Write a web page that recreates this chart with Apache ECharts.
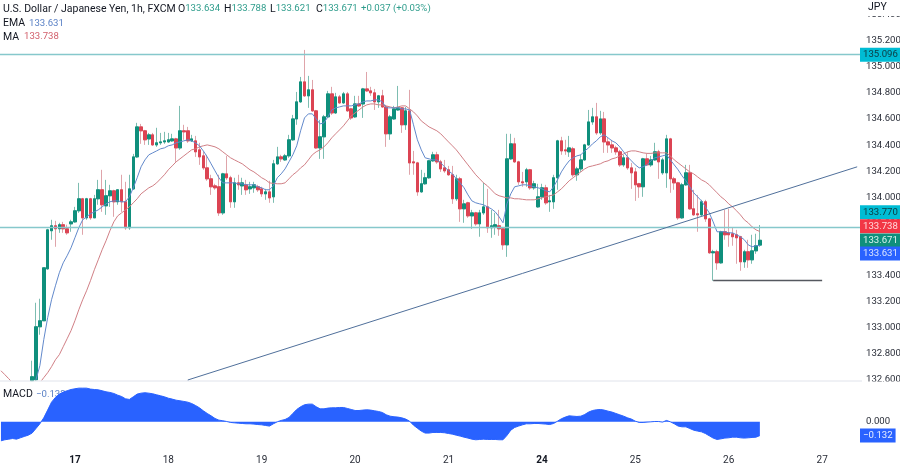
<!DOCTYPE html>
<html><head><meta charset="utf-8">
<style>html,body{margin:0;padding:0;background:#fff}#c{width:900px;height:464px}</style>
<script src="https://cdn.jsdelivr.net/npm/echarts@6/dist/echarts.min.js"></script>
</head><body><div id="c"></div>
<script>
const slotCount=222;
const sessionDays=[17,18,19,20,21,24,25,26,27];
// open, close, low, high per hour; first 8 hours sit below the visible range
const ohlc=[null,null,null,null,null,null,null,null,
[132.595,132.625,132.595,132.748],[132.602,133.008,132.595,133.192],[133.008,133.054,132.947,133.223],[133.054,133.460,133.054,133.460],
[133.452,133.751,133.445,133.759],[133.744,133.782,133.675,133.828],[133.782,133.759,133.621,133.820],[133.759,133.790,133.728,133.805],
[133.790,133.759,133.728,133.812],[133.759,133.728,133.713,133.790],[133.797,133.812,133.736,133.828],[133.812,133.897,133.805,133.927],
[133.897,133.989,133.881,134.111],[133.989,133.843,133.713,133.996],[133.843,133.989,133.828,133.996],[133.989,133.843,133.828,133.996],
[133.843,133.989,133.843,134.019],[133.989,134.058,133.943,134.134],[134.058,133.943,133.889,134.211],[133.935,134.012,133.866,134.134],
[134.012,134.050,133.927,134.096],[134.050,133.966,133.851,134.058],[133.966,134.058,133.943,134.058],[134.058,133.966,133.889,134.173],
[133.966,133.767,133.751,134.119],[133.767,134.065,133.751,134.173],[134.065,134.310,134.058,134.333],[134.310,134.540,134.303,134.571],
[134.540,134.510,134.410,134.563],[134.510,134.441,134.402,134.517],[134.448,134.479,134.402,134.494],[134.479,134.402,134.395,134.494],
[134.402,134.418,134.387,134.533],[134.418,134.425,134.402,134.494],[134.425,134.433,134.410,134.502],[134.425,134.441,134.418,134.494],
[134.433,134.448,134.425,134.487],[134.448,134.379,134.272,134.456],[134.379,134.510,134.364,134.701],[134.510,134.502,134.441,134.556],
[134.510,134.433,134.418,134.540],[134.433,134.448,134.425,134.479],[134.433,134.349,134.310,134.471],[134.364,134.310,134.249,134.418],
[134.318,134.226,134.211,134.349],[134.226,134.142,134.127,134.326],[134.142,134.081,134.019,134.173],[134.088,134.073,134.058,134.104],
[134.081,133.881,133.858,134.173],[133.881,134.180,133.866,134.188],[134.180,134.150,134.134,134.318],[134.150,133.966,133.920,134.165],
[133.966,134.111,133.920,134.150],[134.111,134.096,134.058,134.173],[134.088,134.111,134.019,134.150],[134.096,134.058,134.019,134.134],
[134.065,134.081,134.027,134.119],[134.073,134.096,134.035,134.119],[134.081,134.058,134.042,134.096],[134.065,134.027,134.004,134.081],
[134.027,134.042,133.981,134.065],[134.042,133.996,133.958,134.127],[134.004,134.257,133.958,134.287],[134.257,134.310,134.249,134.387],
[134.310,134.295,134.272,134.326],[134.287,134.318,134.280,134.333],[134.318,134.441,134.303,134.479],[134.441,134.601,134.433,134.632],
[134.601,134.732,134.556,134.808],[134.732,134.885,134.724,134.923],[134.885,134.778,134.770,135.130],[134.778,134.824,134.686,134.931],
[134.824,134.663,134.655,134.900],[134.663,134.379,134.372,134.670],[134.379,134.464,134.295,134.594],[134.464,134.617,134.295,134.632],
[134.617,134.793,134.609,134.816],[134.793,134.647,134.632,134.847],[134.647,134.770,134.640,134.801],[134.770,134.724,134.716,134.785],
[134.724,134.793,134.716,134.808],[134.793,134.663,134.655,134.808],[134.678,134.609,134.594,134.686],[134.617,134.716,134.609,134.778],
[134.716,134.701,134.693,134.778],[134.716,134.831,134.609,134.839],[134.831,134.816,134.808,134.961],[134.816,134.801,134.778,134.847],
[134.801,134.732,134.670,134.831],[134.732,134.778,134.686,134.785],[134.778,134.693,134.686,134.824],[134.693,134.487,134.387,134.709],
[134.487,134.617,134.441,134.632],[134.601,134.678,134.594,134.701],[134.670,134.686,134.663,134.854],[134.686,134.556,134.494,134.693],
[134.556,134.663,134.517,134.693],[134.663,134.264,134.173,134.824],[134.272,134.264,134.173,134.356],[134.264,134.042,134.012,134.272],
[134.042,134.104,134.035,134.211],[134.104,134.150,134.096,134.188],[134.150,134.280,134.142,134.287],[134.280,134.326,134.272,134.349],
[134.326,134.272,134.257,134.349],[134.272,134.218,134.195,134.287],[134.226,134.203,134.188,134.287],[134.211,134.173,134.165,134.241],
[134.173,133.989,133.950,134.241],[133.989,134.142,133.973,134.173],[134.142,133.912,133.812,134.157],[133.912,133.950,133.805,133.981],
[133.958,133.858,133.843,133.966],[133.858,133.881,133.759,133.904],[133.881,133.797,133.782,133.889],[133.797,133.881,133.698,133.904],
[133.881,133.927,133.866,134.111],[133.927,133.767,133.728,134.065],[133.767,133.782,133.690,133.904],[133.774,133.790,133.713,133.881],
[133.782,133.759,133.705,133.904],[133.759,133.636,133.598,133.767],[133.636,134.295,133.544,134.487],[134.295,134.410,134.287,134.487],
[134.410,134.272,134.264,134.456],[134.272,134.119,134.096,134.280],[134.119,134.111,134.081,134.195],[134.119,134.211,134.081,134.226],
[134.211,134.073,134.058,134.218],[134.073,134.104,134.058,134.127],[133.927,134.004,133.920,134.104],[134.004,134.073,133.981,134.104],
[134.073,133.958,133.943,134.096],[133.966,133.973,133.889,134.019],[133.966,134.150,133.912,134.173],[134.150,134.433,134.058,134.441],
[134.433,134.356,134.326,134.464],[134.364,134.356,134.326,134.441],[134.349,134.379,134.310,134.471],[134.372,134.173,134.157,134.387],
[134.173,134.218,134.127,134.234],[134.218,134.287,134.195,134.326],[134.287,134.402,134.280,134.410],[134.402,134.578,134.395,134.670],
[134.578,134.617,134.556,134.686],[134.617,134.494,134.479,134.724],[134.494,134.601,134.479,134.663],[134.601,134.425,134.341,134.655],
[134.425,134.402,134.341,134.456],[134.402,134.379,134.341,134.441],[134.379,134.349,134.326,134.395],[134.349,134.249,134.234,134.364],
[134.249,134.303,134.234,134.326],[134.303,134.226,134.211,134.349],[134.226,134.188,134.065,134.264],[134.195,134.096,133.973,134.226],
[134.104,134.081,133.996,134.111],[134.081,134.295,134.004,134.303],[134.295,134.249,134.241,134.333],[134.249,134.287,134.234,134.318],
[134.287,134.349,134.280,134.418],[134.349,134.272,134.142,134.364],[134.188,134.287,134.173,134.303],[134.188,134.448,134.073,134.479],
[134.448,134.142,134.035,134.456],[134.142,134.111,134.058,134.157],[134.111,133.843,133.828,134.119],[133.843,134.096,133.835,134.111],
[134.096,134.188,134.088,134.249],[134.188,133.912,133.904,134.249],[133.912,133.866,133.858,134.058],[133.874,133.866,133.736,134.019],
[133.866,133.966,133.858,133.981],[133.966,133.835,133.812,133.981],[133.835,133.575,133.567,133.843],[133.575,133.583,133.361,133.598],
[133.583,133.498,133.445,133.598],[133.498,133.736,133.491,133.744],[133.736,133.713,133.675,133.904],[133.728,133.713,133.621,133.912],
[133.721,133.698,133.629,133.767],[133.713,133.690,133.491,133.751],[133.698,133.506,133.437,133.705],[133.506,133.583,133.460,133.598],
[133.583,133.521,133.460,133.675],[133.521,133.590,133.491,133.713],[133.590,133.629,133.567,133.721],[133.634,133.671,133.621,133.788]];
const maValues=[132.671,132.641,132.610,132.579,132.556,132.541,132.526,132.518,132.518,132.541,132.579,132.618,132.656,132.702,132.755,132.794,132.855,132.916,132.978,133.054,133.138,133.215,133.284,133.361,133.445,133.521,133.598,133.667,133.744,133.812,133.858,133.881,133.904,133.927,133.958,133.989,134.027,134.050,134.073,134.088,134.111,134.142,134.173,134.211,134.241,134.272,134.295,134.318,134.341,134.364,134.372,134.387,134.395,134.402,134.395,134.387,134.372,134.349,134.326,134.303,134.287,134.272,134.257,134.234,134.211,134.195,134.173,134.150,134.134,134.111,134.107,134.104,134.104,134.111,134.142,134.173,134.195,134.226,134.249,134.287,134.326,134.349,134.364,134.387,134.418,134.456,134.487,134.517,134.548,134.586,134.624,134.647,134.670,134.693,134.709,134.716,134.716,134.709,134.709,134.701,134.693,134.686,134.693,134.701,134.701,134.678,134.655,134.624,134.586,134.563,134.540,134.525,134.510,134.487,134.456,134.425,134.395,134.364,134.326,134.287,134.249,134.211,134.173,134.142,134.111,134.088,134.058,134.027,134.012,134.004,133.996,133.996,133.989,133.989,133.985,133.981,133.981,133.981,133.989,133.996,134.004,134.012,134.019,134.042,134.065,134.096,134.127,134.150,134.173,134.195,134.218,134.234,134.241,134.249,134.257,134.272,134.280,134.295,134.303,134.318,134.333,134.349,134.356,134.356,134.349,134.341,134.337,134.337,134.341,134.341,134.341,134.341,134.318,134.287,134.264,134.241,134.218,134.195,134.180,134.157,134.134,134.119,134.096,134.065,134.035,134.004,133.981,133.950,133.927,133.897,133.866,133.828,133.805,133.774,133.751,133.738];
const emaValues=['-','-','-','-','-','-','-','-','-',132.602,132.710,132.909,133.077,133.215,133.322,133.422,133.498,133.552,133.613,133.690,133.767,133.828,133.851,133.874,133.889,133.904,133.927,133.950,133.966,133.973,133.973,133.966,133.966,134.004,134.073,134.150,134.234,134.287,134.326,134.341,134.356,134.372,134.379,134.395,134.402,134.418,134.425,134.433,134.441,134.433,134.418,134.395,134.356,134.310,134.257,134.203,134.150,134.111,134.111,134.111,134.111,134.104,134.104,134.096,134.096,134.096,134.081,134.073,134.058,134.058,134.088,134.150,134.180,134.218,134.272,134.326,134.395,134.510,134.609,134.640,134.640,134.601,134.563,134.571,134.617,134.670,134.686,134.693,134.701,134.701,134.701,134.709,134.716,134.732,134.739,134.739,134.747,134.747,134.732,134.686,134.686,134.686,134.686,134.678,134.678,134.670,134.556,134.441,134.364,134.303,134.295,134.287,134.287,134.264,134.234,134.203,134.180,134.142,134.111,134.073,134.019,133.973,133.958,133.950,133.943,133.927,133.912,133.889,133.851,133.805,133.950,134.027,134.081,134.088,134.096,134.096,134.088,134.081,134.073,134.065,134.050,134.042,134.081,134.134,134.195,134.241,134.280,134.303,134.318,134.326,134.356,134.379,134.410,134.433,134.464,134.479,134.456,134.433,134.418,134.387,134.349,134.310,134.280,134.249,134.226,134.234,134.249,134.280,134.303,134.310,134.318,134.326,134.287,134.249,134.211,134.165,134.127,134.081,134.035,134.004,133.973,133.927,133.881,133.812,133.736,133.736,133.736,133.728,133.728,133.713,133.698,133.675,133.636,133.621,133.629,133.631];
const macdValues=[-0.182,-0.172,-0.166,-0.160,-0.166,-0.153,-0.140,-0.128,-0.108,-0.064,-0.019,0.038,0.112,0.188,0.233,0.265,0.284,0.297,0.309,0.316,0.322,0.322,0.322,0.313,0.309,0.306,0.297,0.287,0.281,0.271,0.255,0.242,0.220,0.214,0.239,0.265,0.274,0.278,0.274,0.268,0.258,0.249,0.239,0.226,0.217,0.207,0.201,0.195,0.188,0.175,0.156,0.134,0.105,0.080,0.057,0.032,0.016,0.010,0.003,-0.006,-0.010,-0.013,-0.016,-0.019,-0.019,-0.022,-0.026,-0.029,-0.035,-0.041,-0.019,0,0.013,0.022,0.041,0.080,0.118,0.144,0.163,0.169,0.169,0.144,0.124,0.124,0.131,0.134,0.134,0.137,0.137,0.128,0.118,0.108,0.108,0.112,0.115,0.112,0.105,0.099,0.089,0.067,0.054,0.048,0.045,0.038,0.026,0.006,-0.032,-0.061,-0.089,-0.108,-0.108,-0.102,-0.102,-0.102,-0.105,-0.112,-0.118,-0.128,-0.137,-0.147,-0.156,-0.166,-0.172,-0.169,-0.166,-0.169,-0.169,-0.169,-0.172,-0.172,-0.131,-0.080,-0.054,-0.041,-0.029,-0.019,-0.019,-0.016,-0.016,-0.019,-0.022,-0.026,-0.016,0.006,0.029,0.045,0.057,0.054,0.051,0.054,0.070,0.093,0.108,0.115,0.118,0.112,0.102,0.093,0.080,0.067,0.054,0.038,0.026,0.006,-0.006,-0.006,-0.003,0,0.003,0.003,-0.003,0.013,0,-0.019,-0.041,-0.048,-0.048,-0.064,-0.080,-0.089,-0.096,-0.112,-0.134,-0.156,-0.169,-0.163,-0.156,-0.153,-0.147,-0.147,-0.153,-0.156,-0.153,-0.150,-0.147,-0.132];
const levelLines=[135.096,133.770];
const trendFrom=[48,132.6], trendTo=[220,134.234];
const supportLine=[183,211,133.361];
const lastClose=133.671, lastEma=133.631, lastMa=133.738, lastMacd=-0.132;
const header={title:'U.S. Dollar / Japanese Yen, 1h, FXCM',o:'133.634',h:'133.788',l:'133.621',c:'133.671',chg:'+0.037 (+0.03%)'};

const FONT='Roboto', FS=10.5, NS=9.6;
const GREEN='#0f8f7c', RED='#dc4453', BLUE='#2962ff';
const categories=[];
for(let i=0;i<slotCount;i++){
  const slot=i-19, d=Math.floor(slot/24), h=((slot%24)+24)%24;
  categories.push((d<0?16:sessionDays[d])+' '+String(h).padStart(2,'0')+':00');
}
const blank=['-','-','-','-'];
const wicks=ohlc.map(r=>r||blank);
const bodies=ohlc.map(r=>r?[r[0],r[1],Math.min(r[0],r[1]),Math.max(r[0],r[1])]:blank);

function tag(value,text,bg,fg,dy,line){
  return {yAxis:value,lineStyle:line||{color:'rgba(0,0,0,0)',width:0},label:{show:true,position:'end',distance:-3,offset:[0,dy],formatter:text,
    backgroundColor:bg,color:fg,fontFamily:FONT,fontSize:NS,lineHeight:14,padding:[0,3,0,3]}};
}
function txt(x,y,text,color,z,extra){
  return Object.assign({type:'text',x:x,y:y,z:z||50,silent:true,style:Object.assign({text:text,fill:color,fontFamily:FONT,fontSize:FS,textVerticalAlign:'middle'},extra||{})});
}
const numTxt=(x,y,text,color,z)=>txt(x,y,text,color,z,{fontSize:NS});
const hv=(k,v,x)=>txt(x,9,'{k|'+k+'}{v|'+v+'}','#131722',50,{rich:{k:{fill:'#131722',fontFamily:FONT,fontSize:FS},v:{fill:'#2f9d8c',fontFamily:FONT,fontSize:NS}}});

const chart=echarts.init(document.getElementById('c'));
chart.setOption({
  animation:false,backgroundColor:'#fff',
  grid:[{left:-1,width:864,top:-11.4,height:391.4,containLabel:false,outerBoundsMode:'none'},{left:-1,width:864,top:380,height:62.7,containLabel:false,outerBoundsMode:'none'}],
  xAxis:[
    {type:'category',gridIndex:0,data:categories,show:false,boundaryGap:true},
    {type:'category',gridIndex:1,data:categories,boundaryGap:true,axisLine:{show:false},axisTick:{show:false},splitLine:{show:false},
     axisLabel:{interval:0,margin:12.5,hideOverlap:false,fontFamily:FONT,fontSize:10,color:'#2a2e39',
      formatter:v=>{ if(!v.endsWith(' 00:00')) return ''; const d=v.slice(0,2); return (d==='17'||d==='24')?'{b|'+d+'}':d; },
      rich:{b:{fontWeight:'bold',fontFamily:FONT,fontSize:10,color:'#131722'}}}}
  ],
  yAxis:[
    {type:'value',gridIndex:0,position:'right',min:132.6,max:135.6,interval:0.2,scale:true,axisLine:{show:false},axisTick:{show:false},splitLine:{show:false},
     axisLabel:{margin:3,padding:[3,0,0,0],fontFamily:FONT,fontSize:NS,color:'#2a2e39',formatter:v=>v>135.5?'':v.toFixed(3)}},
    {type:'value',gridIndex:1,position:'right',min:-0.2,max:0.4,interval:0.2,axisLine:{show:false},axisTick:{show:false},splitLine:{show:false},
     axisLabel:{margin:3,padding:[3,0,0,0],fontFamily:FONT,fontSize:NS,color:'#2a2e39',formatter:v=>Math.abs(v)<1e-9?'0.000':''}}
  ],
  series:[
    {type:'candlestick',name:'wicks',xAxisIndex:0,yAxisIndex:0,data:wicks,barWidth:3,clip:true,silent:true,
     itemStyle:{color:'rgba(0,0,0,0)',color0:'rgba(0,0,0,0)',borderColor:'#7dbdb1',borderColor0:'#dfa4aa',borderWidth:1}},
    {type:'candlestick',name:'USDJPY',xAxisIndex:0,yAxisIndex:0,data:bodies,barWidth:3,clip:true,silent:true,
     itemStyle:{color:GREEN,color0:RED,borderColor:GREEN,borderColor0:RED,borderWidth:1}},
    {type:'line',name:'MA',xAxisIndex:0,yAxisIndex:0,data:maValues,showSymbol:false,silent:true,clip:true,z:3,lineStyle:{color:'#d07f85',width:1}},
    {type:'line',name:'EMA',xAxisIndex:0,yAxisIndex:0,data:emaValues,showSymbol:false,silent:true,clip:true,z:3,lineStyle:{color:'#6289cb',width:1},
     markLine:{silent:true,symbol:'none',animation:false,z:20,data:[
       tag(levelLines[0],'135.096','#00bcd4','#0c3a40',1,{color:'#86c8cc',width:1.4,type:'solid'}),
       tag(levelLines[1],'133.770','#00bcd4','#0c3a40',-15,{color:'#86c8cc',width:1.4,type:'solid'}),
       tag(lastMa,'133.738','#f23645','#ffd9dc',-5),
       tag(lastClose,'133.671',GREEN,'#d8f3ee',0),
       tag(lastEma,'133.631',BLUE,'#dbe5ff',8),
       [{coord:trendFrom,lineStyle:{color:'#50709b',width:1,type:'solid'},label:{show:false}},{coord:trendTo}],
       [{coord:[supportLine[0],supportLine[2]],lineStyle:{color:'#55585f',width:1.4,type:'solid'},label:{show:false}},{coord:[supportLine[1],supportLine[2]]}]
     ]}},
    {type:'line',name:'MACD',xAxisIndex:1,yAxisIndex:1,data:macdValues,showSymbol:false,silent:true,z:3,lineStyle:{color:BLUE,width:1},areaStyle:{color:BLUE,opacity:1},
     markLine:{silent:true,symbol:'none',animation:false,z:20,data:[tag(lastMacd,'\u22120.132',BLUE,'#e6edff',0)]}}
  ],
  graphic:[
    {type:'rect',shape:{x:862,y:0,width:38,height:16},style:{fill:'#fff'},z:15,silent:true},
    {type:'rect',shape:{x:862,y:381.5,width:38,height:12},style:{fill:'#fff'},z:15,silent:true},
    {type:'line',shape:{x1:0,y1:381,x2:862,y2:381},style:{stroke:'#e0e3eb',lineWidth:1},z:15,silent:true},
    txt(868,7,'JPY','#131722'),
    txt(3,9,header.title,'#131722'),
    hv('O',header.o,178),hv('H',header.h,224),hv('L',header.l,270),hv('C',header.c,316),
    numTxt(361,9,header.chg,'#2f9d8c'),
    txt(3,23.5,'EMA','#131722'),numTxt(29,23.5,'133.631','#5b82c6'),
    txt(3,37,'MA','#131722'),numTxt(24,37,'133.738','#d2606c'),
    txt(3,394.5,'MACD','#131722',1),numTxt(36,394.5,'\u22120.132','#5b82c6',1)
  ]
});
</script></body></html>
